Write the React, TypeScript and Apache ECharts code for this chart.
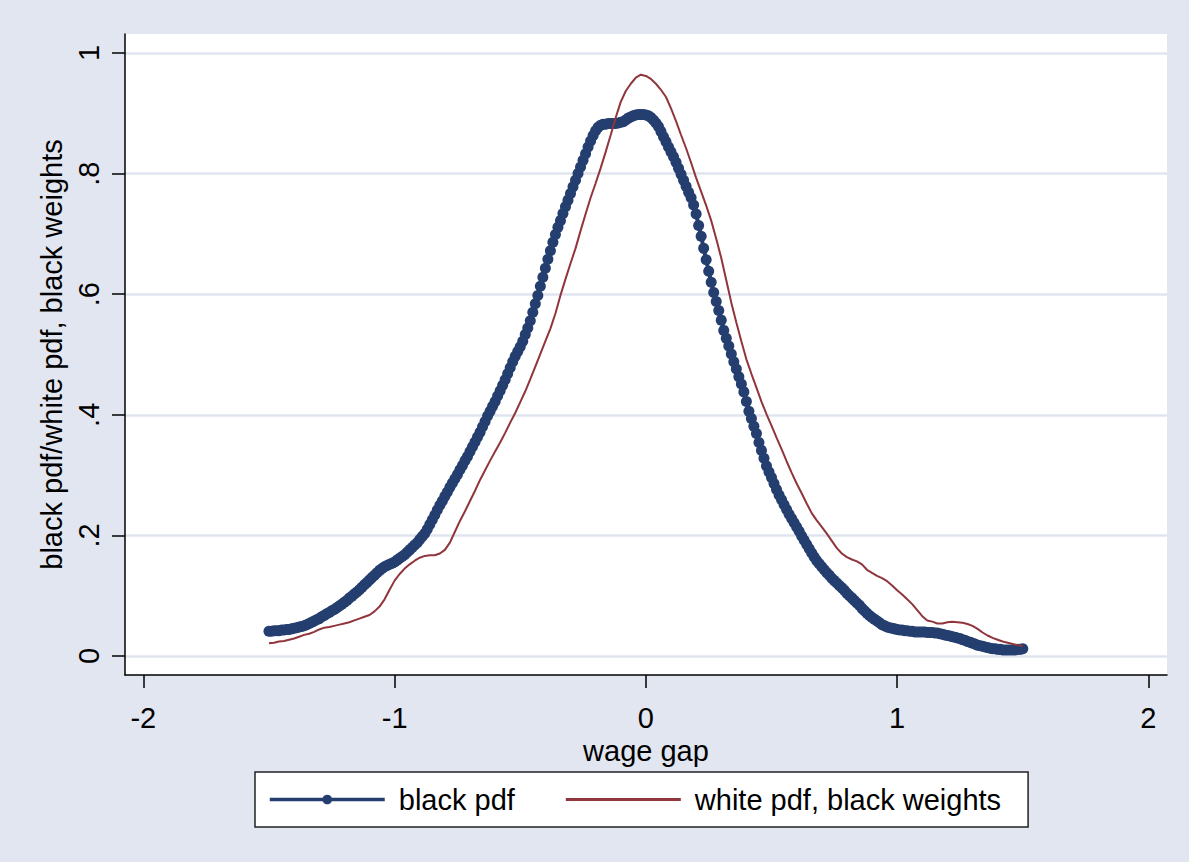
import React, { useEffect, useRef } from "react";
import * as echarts from "echarts";

const xTicks = [-2, -1, 0, 1, 2];
const yTicks = [0, 0.2, 0.4, 0.6, 0.8, 1];
const yTickLabels = ["0", ".2", ".4", ".6", ".8", "1"];
const seriesNames = ["black pdf", "white pdf, black weights"];
const xTitle = "wage gap";
const yTitle = "black pdf/white pdf, black weights";

// black pdf: evaluated from -1.5 to 1.5 in steps of 0.01
const blackStart = -1.5;
const blackStep = 0.01;
const blackPdf = [
  0.041, 0.041, 0.042, 0.042, 0.042, 0.043, 0.043, 0.044, 0.044, 0.045,
  0.046, 0.047, 0.048, 0.049, 0.050, 0.052, 0.054, 0.056, 0.058, 0.060,
  0.062, 0.065, 0.067, 0.070, 0.072, 0.075, 0.077, 0.080, 0.083, 0.086,
  0.089, 0.092, 0.096, 0.099, 0.103, 0.106, 0.110, 0.114, 0.118, 0.122,
  0.126, 0.130, 0.134, 0.138, 0.142, 0.145, 0.148, 0.150, 0.152, 0.154,
  0.156, 0.159, 0.162, 0.165, 0.168, 0.172, 0.176, 0.180, 0.184, 0.188,
  0.193, 0.198, 0.203, 0.210, 0.218, 0.226, 0.234, 0.242, 0.250, 0.257,
  0.265, 0.272, 0.280, 0.287, 0.294, 0.301, 0.309, 0.316, 0.324, 0.331,
  0.339, 0.347, 0.355, 0.363, 0.371, 0.380, 0.389, 0.398, 0.406, 0.414,
  0.422, 0.431, 0.440, 0.449, 0.458, 0.468, 0.478, 0.488, 0.497, 0.505,
  0.513, 0.522, 0.533, 0.544, 0.556, 0.570, 0.584, 0.598, 0.613, 0.628,
  0.643, 0.658, 0.672, 0.686, 0.699, 0.711, 0.722, 0.734, 0.745, 0.756,
  0.767, 0.778, 0.789, 0.800, 0.811, 0.822, 0.833, 0.844, 0.854, 0.863,
  0.871, 0.877, 0.880, 0.882, 0.882, 0.883, 0.883, 0.883, 0.883, 0.884,
  0.885, 0.886, 0.889, 0.892, 0.894, 0.896, 0.897, 0.898, 0.898, 0.898,
  0.897, 0.896, 0.893, 0.889, 0.884, 0.878, 0.870, 0.861, 0.853, 0.844,
  0.836, 0.828, 0.819, 0.809, 0.799, 0.789, 0.779, 0.769, 0.760, 0.748,
  0.733, 0.714, 0.696, 0.676, 0.657, 0.638, 0.620, 0.603, 0.588, 0.573,
  0.557, 0.540, 0.527, 0.514, 0.501, 0.488, 0.476, 0.463, 0.451, 0.438,
  0.422, 0.406, 0.394, 0.381, 0.369, 0.354, 0.341, 0.328, 0.315, 0.305,
  0.296, 0.286, 0.276, 0.267, 0.259, 0.251, 0.243, 0.235, 0.228, 0.221,
  0.214, 0.207, 0.199, 0.192, 0.185, 0.178, 0.171, 0.164, 0.158, 0.153,
  0.148, 0.143, 0.138, 0.134, 0.129, 0.125, 0.121, 0.117, 0.113, 0.109,
  0.104, 0.100, 0.096, 0.092, 0.088, 0.084, 0.079, 0.075, 0.071, 0.067,
  0.064, 0.061, 0.058, 0.055, 0.052, 0.050, 0.048, 0.047, 0.046, 0.045,
  0.044, 0.043, 0.043, 0.042, 0.042, 0.041, 0.041, 0.040, 0.040, 0.040,
  0.040, 0.040, 0.039, 0.039, 0.039, 0.038, 0.038, 0.037, 0.036, 0.035,
  0.034, 0.033, 0.032, 0.031, 0.030, 0.029, 0.027, 0.026, 0.024, 0.023,
  0.021, 0.020, 0.018, 0.017, 0.016, 0.015, 0.014, 0.013, 0.012, 0.012,
  0.011, 0.011, 0.010, 0.010, 0.010, 0.010, 0.010, 0.010, 0.011, 0.011,
  0.012,
];

// white pdf, black weights: evaluated from -1.5 to 1.5 in steps of 0.02
const whiteStart = -1.5;
const whiteStep = 0.02;
const whitePdf = [
  0.021, 0.022, 0.024, 0.025, 0.027, 0.029, 0.032, 0.035, 0.037, 0.040,
  0.044, 0.047, 0.048, 0.050, 0.052, 0.054, 0.056, 0.059, 0.062, 0.065,
  0.068, 0.074, 0.082, 0.094, 0.110, 0.125, 0.136, 0.145, 0.152, 0.158,
  0.163, 0.166, 0.167, 0.167, 0.170, 0.176, 0.188, 0.206, 0.224, 0.240,
  0.257, 0.274, 0.292, 0.308, 0.324, 0.339, 0.354, 0.370, 0.387, 0.403,
  0.421, 0.439, 0.459, 0.480, 0.501, 0.522, 0.543, 0.568, 0.598, 0.625,
  0.651, 0.676, 0.705, 0.733, 0.760, 0.784, 0.809, 0.836, 0.864, 0.893,
  0.919, 0.937, 0.949, 0.959, 0.964, 0.962, 0.957, 0.949, 0.939, 0.927,
  0.908, 0.887, 0.864, 0.842, 0.818, 0.793, 0.770, 0.747, 0.722, 0.692,
  0.660, 0.623, 0.586, 0.553, 0.522, 0.492, 0.468, 0.445, 0.422, 0.401,
  0.382, 0.362, 0.343, 0.323, 0.304, 0.286, 0.270, 0.253, 0.237, 0.225,
  0.214, 0.203, 0.191, 0.179, 0.170, 0.164, 0.160, 0.157, 0.152, 0.143,
  0.138, 0.133, 0.129, 0.124, 0.117, 0.109, 0.102, 0.094, 0.086, 0.076,
  0.066, 0.059, 0.057, 0.054, 0.054, 0.056, 0.057, 0.056, 0.055, 0.053,
  0.050, 0.045, 0.039, 0.034, 0.030, 0.027, 0.024, 0.022, 0.020, 0.018,
  0.017,
];

const FONT = "'Liberation Sans', Arial, Helvetica, sans-serif";
const BLUE = "#243f6f";
const RED = "#90353b";
const BG = "#e2e6f0";
const GRIDLINE = "#dfe4ee";

export default function App() {
  const ref = useRef<HTMLDivElement>(null);

  useEffect(() => {
    if (!ref.current) return;
    const chart = echarts.init(ref.current, undefined, { renderer: "svg" });

    const blackData = blackPdf.map((v, i) => [
      +(blackStart + i * blackStep).toFixed(4),
      v,
    ]);
    const whiteData = whitePdf.map((v, i) => [
      +(whiteStart + i * whiteStep).toFixed(4),
      v,
    ]);

    const option: any = {
      animation: false,
      backgroundColor: BG,
      textStyle: { fontFamily: FONT },
      grid: {
        left: 125,
        right: 22,
        top: 34,
        bottom: 187,
        show: true,
        backgroundColor: "#ffffff",
        borderWidth: 0,
        containLabel: false,
      },
      xAxis: {
        type: "value",
        min: -2.073,
        max: 2.074,
        name: xTitle,
        nameLocation: "middle",
        nameGap: 48,
        nameTextStyle: { fontSize: 29, color: "#000", fontFamily: FONT },
        axisLine: { show: true, onZero: false, lineStyle: { color: "#000", width: 1.5 } },
        axisTick: {
          show: true,
          length: 13,
          inside: false,
          customValues: xTicks,
          lineStyle: { color: "#000", width: 1.5 },
        },
        axisLabel: {
          customValues: xTicks,
          fontSize: 29,
          color: "#000",
          fontFamily: FONT,
          margin: 28,
          formatter: (v: number) => String(v),
        },
        splitLine: { show: false },
      },
      yAxis: {
        type: "value",
        min: -0.0315,
        max: 1.0315,
        name: yTitle,
        nameLocation: "middle",
        nameRotate: 90,
        nameGap: 54,
        nameTextStyle: { fontSize: 29, color: "#000", fontFamily: FONT },
        axisLine: { show: true, onZero: false, lineStyle: { color: "#000", width: 1.5 } },
        axisTick: {
          show: true,
          length: 13,
          inside: false,
          customValues: yTicks,
          lineStyle: { color: "#000", width: 1.5 },
        },
        axisLabel: {
          customValues: yTicks,
          rotate: 90,
          fontSize: 29,
          color: "#000",
          fontFamily: FONT,
          margin: 22,
          formatter: (v: number) => {
            const i = yTicks.findIndex((t) => Math.abs(t - v) < 1e-6);
            return i >= 0 ? yTickLabels[i] : "";
          },
        },
        splitLine: { show: true, lineStyle: { color: GRIDLINE, width: 2.5 } },
      },
      legend: {
        show: true,
        left: 255,
        top: 772,
        orient: "horizontal",
        selectedMode: false,
        backgroundColor: "#ffffff",
        borderColor: "#222222",
        borderWidth: 1.5,
        borderRadius: 0,
        padding: [13, 27, 13, 13],
        itemWidth: 115,
        itemHeight: 12,
        itemGap: 51,
        textStyle: {
          fontSize: 29,
          color: "#000",
          fontFamily: FONT,
          padding: [0, 0, 0, 9],
        },
        data: [
          { name: seriesNames[0], lineStyle: { width: 3.5 } },
          { name: seriesNames[1], icon: "path://M0,0 L115,0 L115,3 L0,3 Z" },
        ],
      },
      series: [
        {
          name: seriesNames[0],
          type: "line",
          data: blackData,
          showSymbol: true,
          symbol: "circle",
          symbolSize: 11,
          lineStyle: { color: BLUE, width: 4 },
          itemStyle: { color: BLUE },
          z: 2,
        },
        {
          name: seriesNames[1],
          type: "line",
          data: whiteData,
          showSymbol: false,
          symbol: "none",
          lineStyle: { color: RED, width: 2 },
          itemStyle: { color: RED },
          z: 3,
        },
      ],
    };

    chart.setOption(option);
    return () => chart.dispose();
  }, []);

  return (
    <div
      ref={ref}
      style={{ position: "fixed", left: 0, top: 0, width: 1189, height: 862 }}
    />
  );
}
